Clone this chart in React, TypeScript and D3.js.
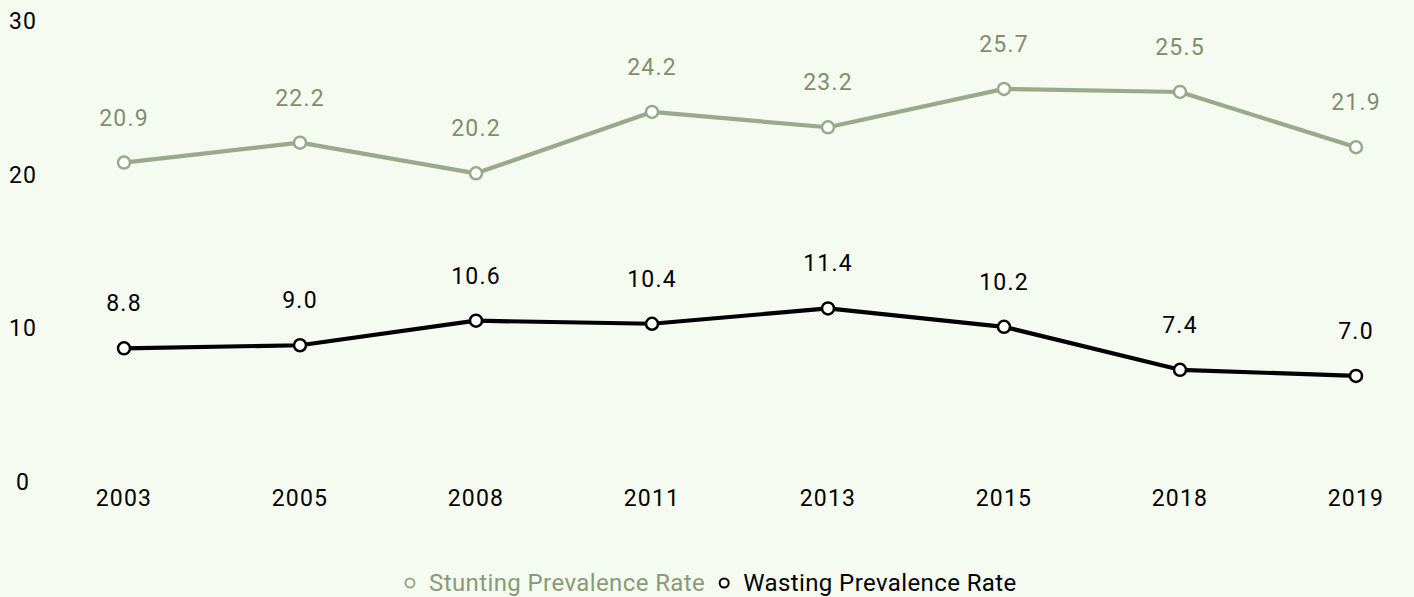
import React, { useEffect, useRef } from 'react';
import * as d3 from 'd3';

const years = ['2003', '2005', '2008', '2011', '2013', '2015', '2018', '2019'];
const stunting = [20.9, 22.2, 20.2, 24.2, 23.2, 25.7, 25.5, 21.9];
const wasting = [8.8, 9.0, 10.6, 10.4, 11.4, 10.2, 7.4, 7.0];
const yTicks = [0, 10, 20, 30];

const series = [
  { name: 'Stunting Prevalence Rate', values: stunting, line: '#9aa98a', label: '#7f8f6c', legend: '#8a9a78' },
  { name: 'Wasting Prevalence Rate', values: wasting, line: '#000000', label: '#000000', legend: '#000000' },
];

const W = 1414;
const H = 597;
const BG = '#f5fbf0';

const App: React.FC = () => {
  const ref = useRef<SVGSVGElement>(null);

  useEffect(() => {
    document.body.style.margin = '0';
    document.body.style.background = BG;

    const svg = d3.select(ref.current);
    svg.selectAll('*').remove();
    const font = 'Roboto, sans-serif';

    const x = d3.scalePoint().domain(years).range([124, 1356]);
    const y = d3.scaleLinear().domain([0, 30]).range([483.4, 22.9]);

    svg.append('rect').attr('width', W).attr('height', H).attr('fill', BG);

    // y tick labels
    svg
      .selectAll('text.ytick')
      .data(yTicks)
      .enter()
      .append('text')
      .attr('class', 'ytick')
      .attr('x', 23)
      .attr('y', (d) => y(d) - 1.5)
      .attr('dy', '0.35em')
      .attr('text-anchor', 'middle')
      .attr('font-family', font)
      .attr('font-size', 23)
      .attr('letter-spacing', 1)
      .text((d) => d);

    // x labels
    svg
      .selectAll('text.xtick')
      .data(years)
      .enter()
      .append('text')
      .attr('class', 'xtick')
      .attr('x', (d) => x(d) || 0)
      .attr('y', 498)
      .attr('dy', '0.35em')
      .attr('text-anchor', 'middle')
      .attr('font-family', font)
      .attr('font-size', 23)
      .attr('letter-spacing', 1.2)
      .text((d) => d);

    const line = d3
      .line<number>()
      .x((_, i) => x(years[i]) || 0)
      .y((d) => y(d));

    series.forEach((s) => {
      const g = svg.append('g');
      g.append('path')
        .attr('d', line(s.values) || '')
        .attr('fill', 'none')
        .attr('stroke', s.line)
        .attr('stroke-width', 4.2)
        .attr('stroke-linejoin', 'round');
      g.selectAll('circle')
        .data(s.values)
        .enter()
        .append('circle')
        .attr('cx', (_, i) => x(years[i]) || 0)
        .attr('cy', (d) => y(d))
        .attr('r', 6)
        .attr('fill', '#ffffff')
        .attr('stroke', s.line)
        .attr('stroke-width', 2.5);
      g.selectAll('text')
        .data(s.values)
        .enter()
        .append('text')
        .attr('x', (_, i) => x(years[i]) || 0)
        .attr('y', (d) => y(d) - 45)
        .attr('dy', '0.35em')
        .attr('text-anchor', 'middle')
        .attr('font-family', font)
        .attr('font-size', 23)
        .attr('letter-spacing', 1.2)
        .attr('fill', s.label)
        .text((d) => d.toFixed(1));
    });

    // legend
    const legend = svg.append('g').attr('transform', 'translate(0,583)');
    let lx = 410;
    series.forEach((s) => {
      legend
        .append('circle')
        .attr('cx', lx)
        .attr('cy', 0)
        .attr('r', 4.5)
        .attr('fill', 'none')
        .attr('stroke', s.line)
        .attr('stroke-width', 2);
      const t = legend
        .append('text')
        .attr('x', lx + 19)
        .attr('y', 0)
        .attr('dy', '0.35em')
        .attr('font-family', font)
        .attr('font-size', 24)
        .attr('letter-spacing', 0.4)
        .attr('fill', s.legend)
        .text(s.name);
      const w = (t.node() as SVGTextElement).getComputedTextLength();
      lx += 19 + w + 19;
    });
  }, []);

  return <svg ref={ref} width={W} height={H} style={{ display: 'block' }} />;
};

export default App;
